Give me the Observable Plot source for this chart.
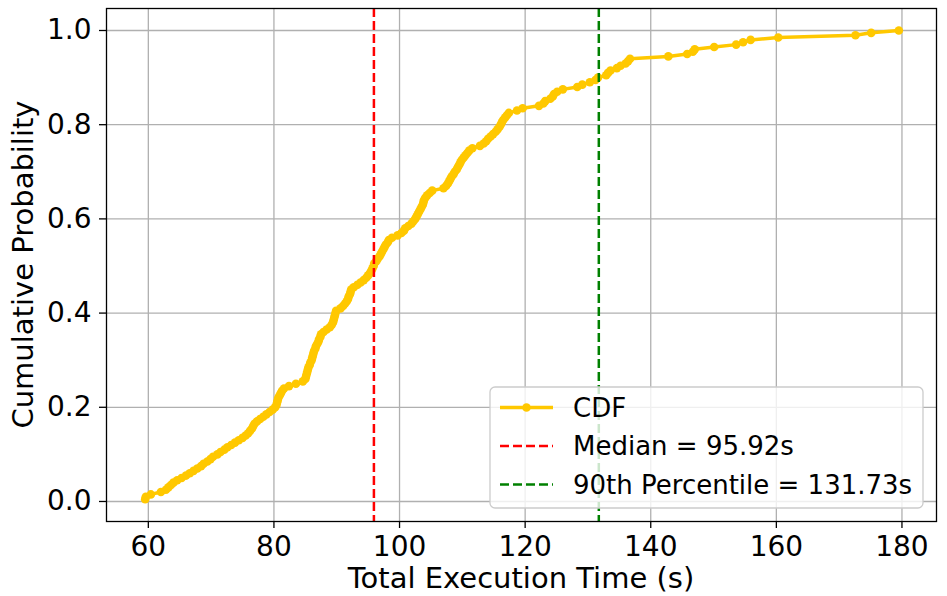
<!DOCTYPE html>
<html>
<head>
<meta charset="utf-8">
<script src="https://cdn.jsdelivr.net/npm/d3@7"></script>
<script src="https://cdn.jsdelivr.net/npm/@observablehq/plot@0.6"></script>
<style>
  html, body { margin: 0; padding: 0; background: white; }
  #chart { width: 947px; height: 596px; overflow: hidden; }
</style>
</head>
<body>
<div id="chart"></div>
<script>
// Sorted total execution times (s), 200 runs
const executionTimes = [
  59.5, 59.6, 60.4, 62.0, 62.8, 63.2, 63.6, 64.0, 64.6, 65.3,
  66.0, 66.6, 67.2, 67.8, 68.4, 68.8, 69.4, 69.9, 70.3, 71.0,
  71.5, 72.1, 72.6, 73.2, 73.8, 74.4, 75.0, 75.5, 75.9, 76.2,
  76.5, 76.7, 76.9, 77.3, 77.8, 78.3, 78.8, 79.3, 79.8, 80.2,
  80.4, 80.5, 80.6, 80.7, 80.9, 81.1, 81.3, 81.6, 82.4, 83.5,
  84.6, 85.0, 85.1, 85.2, 85.3, 85.4, 85.5, 85.7, 85.8, 86.0,
  86.1, 86.2, 86.3, 86.4, 86.6, 86.7, 86.9, 87.1, 87.2, 87.4,
  87.5, 87.9, 88.4, 88.9, 89.2, 89.4, 89.5, 89.6, 89.7, 89.8,
  89.9, 90.6, 91.0, 91.3, 91.6, 91.8, 91.9, 92.1, 92.2, 92.3,
  92.7, 93.3, 93.8, 94.3, 94.7, 95.0, 95.3, 95.5, 95.7, 95.88,
  95.96, 96.3, 96.5, 96.8, 97.0, 97.2, 97.4, 97.6, 97.8, 98.1,
  98.3, 98.8, 99.7, 100.3, 100.7, 100.9, 101.4, 101.9, 102.2, 102.5,
  102.7, 102.9, 103.1, 103.3, 103.5, 103.7, 103.8, 103.9, 104.1, 104.4,
  104.8, 105.2, 107.0, 107.4, 107.7, 107.9, 108.1, 108.3, 108.6, 108.8,
  109.1, 109.3, 109.5, 109.7, 109.9, 110.2, 110.5, 110.8, 111.1, 111.6,
  112.8, 113.4, 113.8, 114.1, 114.5, 114.9, 115.3, 115.6, 115.9, 116.1,
  116.3, 116.5, 116.8, 117.1, 117.4, 118.7, 119.6, 122.2, 122.9, 123.2,
  124.0, 124.4, 124.6, 125.1, 126.0, 128.3, 129.1, 130.3, 131.2, 131.6,
  132.9, 133.2, 133.6, 134.6, 135.2, 136.0, 136.4, 136.7, 142.8, 145.8,
  146.7, 147.0, 150.1, 153.6, 154.7, 155.9, 160.3, 172.6, 175.1, 179.5
];
const medianValue = 95.92;
const p90Value = 131.73;
const xTicks = [60, 80, 100, 120, 140, 160, 180];
const yTicks = [0.0, 0.2, 0.4, 0.6, 0.8, 1.0];
const legendLabels = ["CDF", "Median = 95.92s", "90th Percentile = 131.73s"];
const xLabel = "Total Execution Time (s)";
const yLabel = "Cumulative Probability";

const gold = "#ffc800";
const n = executionTimes.length;
const cdf = executionTimes.map((t, i) => ({time: t, prob: (i + 1) / n}));

const W = 947, H = 596;
const mL = 106, mR = 11, mT = 8, mB = 75;

const chart = Plot.plot({
  width: W,
  height: H,
  marginLeft: mL,
  marginRight: mR,
  marginTop: mT,
  marginBottom: mB,
  style: {fontFamily: "DejaVu Sans", fontSize: "28px", background: "white", color: "black", overflow: "visible"},
  x: {domain: [53.34, 185.5]},
  y: {domain: [-0.0425, 1.0467]},
  marks: [
    Plot.gridX(xTicks, {stroke: "#b0b0b0", strokeOpacity: 1, strokeWidth: 1.3}),
    Plot.gridY(yTicks, {stroke: "#b0b0b0", strokeOpacity: 1, strokeWidth: 1.3}),
    Plot.line(cdf, {x: "time", y: "prob", stroke: gold, strokeWidth: 3.5}),
    Plot.dot(cdf, {x: "time", y: "prob", r: 4.3, fill: gold, stroke: "none"}),
    Plot.ruleX([medianValue], {stroke: "#ff0000", strokeWidth: 2.5, strokeDasharray: "9,4"}),
    Plot.ruleX([p90Value], {stroke: "#008000", strokeWidth: 2.5, strokeDasharray: "9,4"}),
    Plot.frame({stroke: "black", strokeWidth: 1.3}),
    Plot.axisX(xTicks, {tickSize: 7, tickPadding: 8, label: null, strokeWidth: 1.3}),
    Plot.axisY(yTicks, {tickSize: 7, tickPadding: 8, label: null, tickFormat: d3.format(".1f"), strokeWidth: 1.3})
  ]
});
document.getElementById("chart").appendChild(chart);

const svg = d3.select(chart);
// axis labels
svg.append("text")
  .attr("x", (mL + (W - mR)) / 2)
  .attr("y", 588)
  .attr("text-anchor", "middle")
  .attr("font-size", 29)
  .attr("fill", "black")
  .text(xLabel);
svg.append("text")
  .attr("transform", `translate(33,${(mT + (H - mB)) / 2}) rotate(-90)`)
  .attr("text-anchor", "middle")
  .attr("font-size", 29)
  .attr("fill", "black")
  .text(yLabel);

// legend
const lg = svg.append("g");
lg.append("rect")
  .attr("x", 490).attr("y", 387).attr("width", 433).attr("height", 121)
  .attr("rx", 5).attr("ry", 5)
  .attr("fill", "white").attr("fill-opacity", 0.8)
  .attr("stroke", "#cccccc").attr("stroke-width", 1.3);
const rows = [407.5, 446, 484.5];
const styles = [
  {stroke: gold, dash: null, marker: true},
  {stroke: "#ff0000", dash: "9,4", marker: false},
  {stroke: "#008000", dash: "9,4", marker: false}
];
legendLabels.forEach((lab, i) => {
  const s = styles[i];
  const ln = lg.append("line")
    .attr("x1", 500).attr("x2", 553)
    .attr("y1", rows[i]).attr("y2", rows[i])
    .attr("stroke", s.stroke)
    .attr("stroke-width", i === 0 ? 3.5 : 2.5);
  if (s.dash) ln.attr("stroke-dasharray", s.dash);
  if (s.marker) lg.append("circle").attr("cx", 526.5).attr("cy", rows[i]).attr("r", 4.3).attr("fill", gold);
  lg.append("text")
    .attr("x", 573).attr("y", rows[i])
    .attr("dy", "0.36em")
    .attr("text-anchor", "start")
    .attr("font-size", 26)
    .attr("fill", "black")
    .text(lab);
});
</script>
</body>
</html>
